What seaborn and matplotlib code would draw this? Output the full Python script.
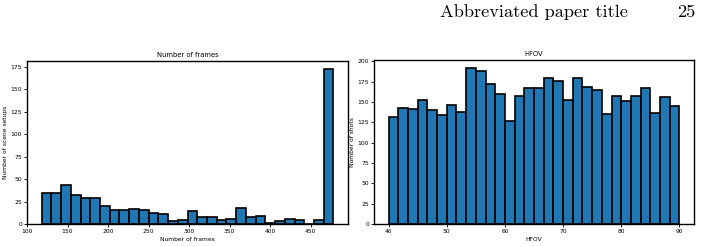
import numpy as np
import pandas as pd
import matplotlib
matplotlib.use("Agg")
import matplotlib.pyplot as plt
import seaborn as sns

# Left histogram: number of frames
frames_start = 118
frames_width = 12
frames_counts = [35, 34, 43, 32, 29, 29, 20, 16, 16, 17, 16, 12, 11, 3, 5,
                 14, 8, 8, 5, 6, 18, 8, 9, 1, 3, 6, 4, 0, 4, 173]

# Right histogram: HFOV
hfov_start = 40
hfov_end = 90
hfov_counts = [132, 142, 141, 152, 140, 134, 146, 138, 192, 188, 172, 160, 127, 157, 167,
               167, 179, 176, 153, 180, 168, 165, 135, 157, 151, 157, 167, 136, 156, 145]

header_title = "Abbreviated paper title"
header_page = "25"

frames_edges = frames_start + frames_width * np.arange(len(frames_counts) + 1)
frames_centers = (frames_edges[:-1] + frames_edges[1:]) / 2
hfov_edges = np.linspace(hfov_start, hfov_end, len(hfov_counts) + 1)
hfov_centers = (hfov_edges[:-1] + hfov_edges[1:]) / 2

plt.rcParams['font.family'] = ['DejaVu Sans']

fig = plt.figure(figsize=(7.02, 2.47), dpi=100)
ax1 = fig.add_axes([27/702, 1-224/247, (348-27)/702, (224-61)/247])
ax2 = fig.add_axes([374/702, 1-224/247, (694-374)/702, (224-60)/247])

fs = 4.3
for ax, centers, edges, counts, title, xlabel, ylabel in [
    (ax1, frames_centers, frames_edges, frames_counts, "Number of frames", "Number of frames", "Number of scene setups"),
    (ax2, hfov_centers, hfov_edges, hfov_counts, "HFOV", "HFOV", "Number of shots"),
]:
    df = pd.DataFrame({"value": centers, "count": counts})
    sns.histplot(data=df, x="value", weights="count", bins=[float(e) for e in edges], ax=ax,
                 color="#1f77b4", edgecolor="black", linewidth=1.2, alpha=1.0)
    ax.set_title(title, fontsize=fs + 0.6, pad=3)
    ax.set_xlabel(xlabel, fontsize=fs, labelpad=2)
    ax.set_ylabel(ylabel, fontsize=fs, labelpad=2)
    ax.tick_params(labelsize=fs, length=2, width=0.6, pad=1.5)
    for s in ax.spines.values():
        s.set_linewidth(1.0)

ax1.set_yticks(np.arange(0, 176, 25))
ax2.set_yticks(np.arange(0, 201, 25))
ax1.set_xticks(np.arange(100, 451, 50))
ax2.set_xticks(np.arange(40, 91, 10))

fig.text(440/702, 1-12/247, header_title, fontsize=13.2, family=['cmr10', 'DejaVu Serif'],
         ha='left', va='center')
fig.text(695/702, 1-12/247, header_page, fontsize=13.2, family=['cmr10', 'DejaVu Serif'],
         ha='right', va='center')

fig.savefig("out.png", dpi=100)
